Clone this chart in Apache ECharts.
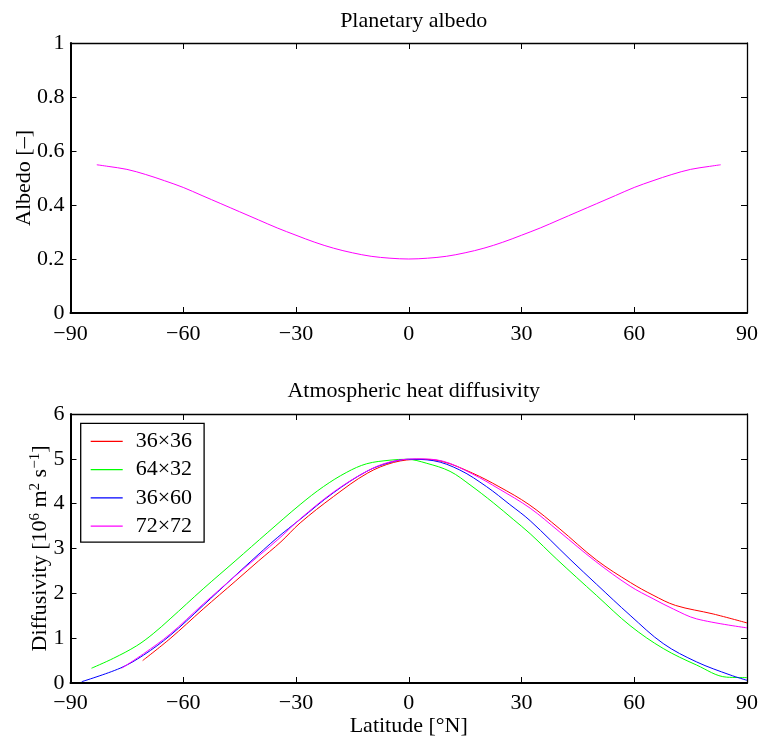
<!DOCTYPE html>
<html>
<head>
<meta charset="utf-8">
<script src="https://cdn.jsdelivr.net/npm/echarts@6/dist/echarts.min.js"></script>
<style>html,body{margin:0;padding:0;background:#fff}#c{width:762px;height:738px}</style>
</head>
<body>
<div id="c"></div>
<script>
// ---- data ----
var latTicks = [-90, -60, -30, 0, 30, 60, 90];

var albedoLat = [-83, -80, -75, -70, -65, -60, -55, -50, -45, -40, -35, -30, -25, -20, -15, -10, -5, 0, 5, 10, 15, 20, 25, 30, 35, 40, 45, 50, 55, 60, 65, 70, 75, 80, 83];
var albedoVal = [0.549, 0.543, 0.532, 0.513, 0.490, 0.465, 0.435, 0.405, 0.375, 0.345, 0.315, 0.288, 0.262, 0.240, 0.223, 0.210, 0.203, 0.200, 0.203, 0.210, 0.223, 0.240, 0.262, 0.288, 0.315, 0.345, 0.375, 0.405, 0.435, 0.465, 0.490, 0.513, 0.532, 0.543, 0.549];

var names = ['36\u00d736', '64\u00d732', '36\u00d760', '72\u00d772'];
var colors = ['#ff0000', '#00ff00', '#0000ff', '#ff00ff'];

var lat36x36 = [-70.8, -63.5, -54.7, -46, -40, -34, -28.9, -20, -11, -4, 3, 9, 17, 24, 32, 40, 50, 59, 65, 71, 81, 90];
var val36x36 = [0.50, 0.99, 1.65, 2.28, 2.72, 3.15, 3.57, 4.16, 4.68, 4.92, 4.99, 4.94, 4.68, 4.38, 3.98, 3.45, 2.74, 2.24, 1.96, 1.73, 1.54, 1.34];

var lat64x32 = [-84.4, -78.6, -72.4, -68, -63.5, -54.7, -46.2, -37.5, -28.9, -22.7, -16.5, -11.2, -5, -0.5, 4.8, 11, 16.3, 22.5, 27.8, 32.3, 39.4, 50, 58.9, 67.7, 76.6, 84.6, 90];
var val64x32 = [0.33, 0.55, 0.83, 1.10, 1.43, 2.10, 2.72, 3.36, 3.98, 4.38, 4.70, 4.89, 4.97, 4.99, 4.90, 4.72, 4.42, 4.02, 3.65, 3.33, 2.76, 1.95, 1.28, 0.77, 0.40, 0.13, 0.12];

var lat36x60 = [-87, -76.8, -70.6, -63.5, -54.7, -47, -42.2, -35, -28.9, -20.1, -11.2, -5, 0, 6.5, 13.6, 20.7, 26.9, 32.3, 42.9, 50, 58.9, 67.7, 76.6, 85.5, 90];
var val36x60 = [0.03, 0.33, 0.62, 1.06, 1.73, 2.33, 2.70, 3.24, 3.65, 4.24, 4.72, 4.92, 4.99, 4.96, 4.75, 4.38, 3.98, 3.62, 2.76, 2.20, 1.51, 0.88, 0.47, 0.18, 0.06];

var lat72x72 = [-76.4, -70.6, -63.5, -54.7, -46, -40, -34, -28.9, -20, -11, -5, 2, 9, 17, 24, 32.3, 40, 49.6, 58.9, 65, 70.4, 76.6, 90];
var val72x72 = [0.33, 0.65, 1.09, 1.76, 2.40, 2.83, 3.26, 3.66, 4.26, 4.73, 4.93, 5.00, 4.95, 4.66, 4.33, 3.90, 3.38, 2.72, 2.16, 1.88, 1.65, 1.43, 1.23];

var diffLat = [lat36x36, lat64x32, lat36x60, lat72x72];
var diffVal = [val36x36, val64x32, val36x60, val72x72];

// ---- chart ----
var FONT = 'Liberation Serif';
function pairs(xs, ys) { return xs.map(function (x, i) { return [x, ys[i]]; }); }
function minusFmt(v) { return String(v).replace('-', '\u2212'); }

var grids = [
  { left: 70.5, top: 43, width: 676.5, height: 270 },
  { left: 70.5, top: 414, width: 676.5, height: 271 }
];

function xAx(gi, pos, labels, name) {
  return {
    type: 'value', gridIndex: gi, position: pos, min: -90, max: 90, interval: 30,
    axisLine: { show: true, onZero: false, lineStyle: { color: '#000', width: pos === 'bottom' ? 2 : 1.3 } },
    axisTick: { show: true, inside: true, length: 6, lineStyle: { color: '#000', width: 1 } },
    axisLabel: { show: labels, margin: gi === 0 ? 10 : 9, fontFamily: FONT, fontSize: 22, color: '#000', formatter: minusFmt },
    splitLine: { show: false },
    name: name || '', nameLocation: 'middle', nameGap: 32, nameMoveOverlap: false,
    nameTextStyle: { fontFamily: FONT, fontSize: 22, color: '#000' }
  };
}
function yAx(gi, pos, labels, min, max, interval, name, nameGap, rich) {
  var o = {
    type: 'value', gridIndex: gi, position: pos, min: min, max: max, interval: interval,
    axisLine: { show: true, onZero: false, lineStyle: { color: '#000', width: pos === 'left' ? 2 : 1.3 } },
    axisTick: { show: true, inside: true, length: 6, lineStyle: { color: '#000', width: 1 } },
    axisLabel: { show: labels, margin: 6, fontFamily: FONT, fontSize: 22, color: '#000' },
    splitLine: { show: false },
    name: name || '', nameLocation: 'middle', nameGap: nameGap || 0, nameMoveOverlap: false,
    nameTextStyle: { fontFamily: FONT, fontSize: 22, color: '#000' }
  };
  if (rich) o.nameTextStyle.rich = rich;
  return o;
}

var supRich = {
  a: { fontFamily: FONT, fontSize: 22, color: '#000', lineHeight: 24, verticalAlign: 'bottom' },
  s: { fontFamily: FONT, fontSize: 15, color: '#000', lineHeight: 24, verticalAlign: 'top' }
};

var SMOOTH = 0.35;
var series = [{
  type: 'line', xAxisIndex: 0, yAxisIndex: 0, data: pairs(albedoLat, albedoVal),
  symbol: 'none', smooth: SMOOTH, lineStyle: { color: '#ff00ff', width: 1 }, itemStyle: { color: '#ff00ff' }, silent: true
}];
for (var i = 0; i < 4; i++) {
  series.push({
    name: names[i], type: 'line', xAxisIndex: 2, yAxisIndex: 2, data: pairs(diffLat[i], diffVal[i]),
    symbol: 'none', smooth: SMOOTH, lineStyle: { color: colors[i], width: 1 }, itemStyle: { color: colors[i] }
  });
}

var option = {
  backgroundColor: '#fff',
  animation: false,
  title: [
    { text: 'Planetary albedo', left: 408.75, top: 5, textAlign: 'center',
      textStyle: { fontFamily: FONT, fontSize: 22, fontWeight: 'normal', color: '#000' } },
    { text: 'Atmospheric heat diffusivity', left: 408.75, top: 375, textAlign: 'center',
      textStyle: { fontFamily: FONT, fontSize: 22, fontWeight: 'normal', color: '#000' } }
  ],
  legend: {
    data: names.map(function (n) { return { name: n, icon: 'rect' }; }),
    orient: 'vertical', left: 80.7, top: 423.3,
    padding: [7, 12, 5, 10], itemWidth: 32, itemHeight: 1.2, itemGap: 6.3,
    backgroundColor: '#fff', borderColor: '#000', borderWidth: 1.3, borderRadius: 0,
    textStyle: { fontFamily: FONT, fontSize: 22, color: '#000', lineHeight: 22, padding: [0, 0, 0, 8] },
    selectedMode: false
  },
  grid: grids,
  xAxis: [
    xAx(0, 'bottom', true),
    xAx(0, 'top', false),
    xAx(1, 'bottom', true, 'Latitude [\u00b0N]'),
    xAx(1, 'top', false)
  ],
  yAxis: [
    yAx(0, 'left', true, 0, 1, 0.2, 'Albedo [\u2013]', 35),
    yAx(0, 'right', false, 0, 1, 0.2),
    yAx(1, 'left', true, 0, 6, 1, '{a|Diffusivity [10}{s|6}{a| m}{s|2}{a| s}{s|\u22121}{a|]}', 19, supRich),
    yAx(1, 'right', false, 0, 6, 1)
  ],
  series: series
};

var chart = echarts.init(document.getElementById('c'), null, { renderer: 'canvas' });
chart.setOption(option);
</script>
</body>
</html>
